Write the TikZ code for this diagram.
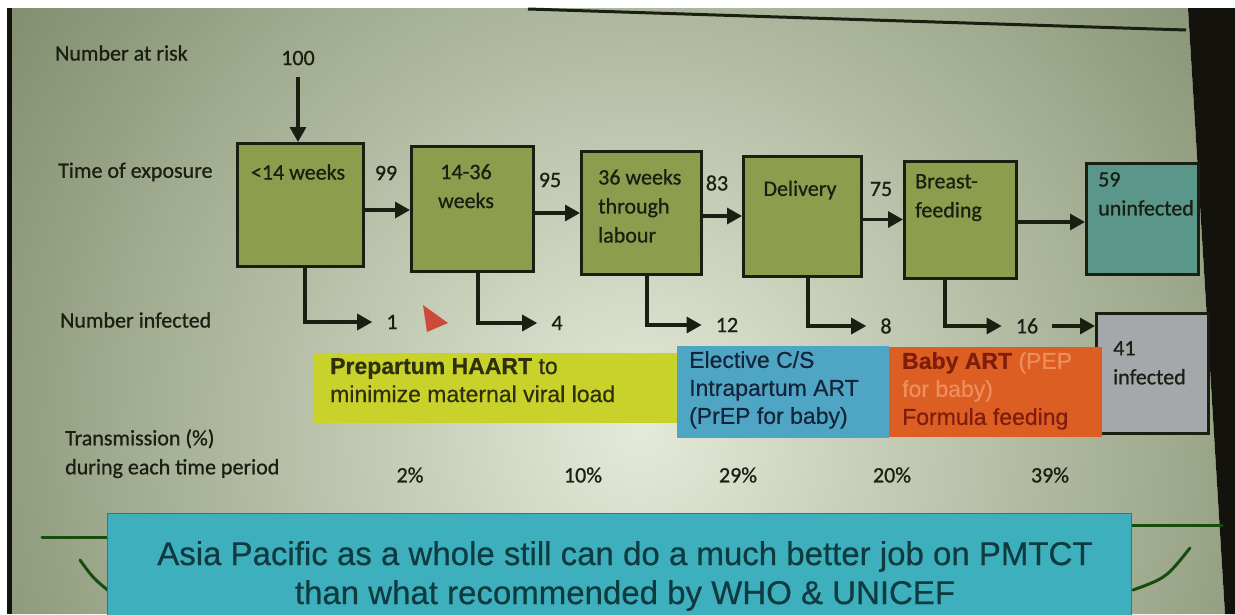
\documentclass[tikz,border=0pt]{standalone}
\usepackage{fontspec}
\setmainfont{Carlito}[FakeBold=0.8]
\newfontfamily\arialf{Liberation Sans}[FakeBold=0.5]
\usetikzlibrary{arrows.meta,calc}
\definecolor{slidein}{HTML}{E4EAD8}
\definecolor{slideout}{HTML}{7A8766}
\definecolor{ink}{HTML}{1B1F12}
\definecolor{gbox}{HTML}{8D9D4D}
\definecolor{tbox}{HTML}{5A968A}
\definecolor{ibox}{HTML}{A4A8AA}
\definecolor{ybox}{HTML}{C9D22A}
\definecolor{bbox}{HTML}{4FA6C4}
\definecolor{obox}{HTML}{DC5E22}
\definecolor{mbox}{HTML}{3EB0BD}
\definecolor{ytext}{HTML}{2E300C}
\definecolor{btext}{HTML}{16243A}
\definecolor{otext}{HTML}{7E1C0E}
\definecolor{olight}{HTML}{EE8E5C}
\definecolor{mtext}{HTML}{0F3A3F}
\definecolor{cursor}{HTML}{CC4A3C}
\definecolor{edge}{HTML}{14120C}
\begin{document}
\begin{tikzpicture}[x=1pt,y=-1pt,
  flowbox/.style={draw=ink, line width=3pt, inner sep=0pt, anchor=north west},
  lab/.style={inner sep=0pt, text=ink, font=\fontsize{22}{29}\selectfont},
  num/.style={inner ysep=0pt, inner xsep=14pt, text=ink, font=\fontsize{22}{29}\selectfont},
  arr/.style={draw=ink, line width=3.2pt, -{Triangle[length=15pt,width=16pt]}},
  panel/.style={inner sep=0pt, anchor=north west},
  ptext/.style={inner sep=0pt, anchor=north west, align=left, font=\arialf\fontsize{23}{28}\selectfont},
  deco/.style={draw=ink!80!green, line width=3pt, line cap=round}]
\useasboundingbox (0,0) rectangle (1235,614);
\fill[white] (0,0) rectangle (1235,614);
% slide background
\begin{scope}
  \clip (12,8) -- (1188,8) -- (1225,614) -- (12,614) -- cycle;
  \shade[inner color=slidein, outer color=slideout] (640,430) circle (820);
\end{scope}
\fill[edge] (7,8) rectangle (12,614);
\fill[edge] (1188,8) -- (1235,8) -- (1235,614) -- (1225,614) -- cycle;
\draw[ink, line width=3pt] (528,9) -- (1186,30);

% row labels
\node[lab, anchor=west] (lrisk) at (55,53) {Number at risk};
\node[lab, anchor=west] (lexp) at (58,172) {Time of exposure};
\node[lab, anchor=west] (linf) at (60,320) {Number infected};
\node[lab, anchor=north west, align=left] (ltr) at (65,429) {Transmission (\%)\\during each time period};

% boxes
\node[flowbox, fill=gbox, minimum width=126pt, minimum height=123pt] (b1) at (236,142) {};
\node[flowbox, fill=gbox, minimum width=122pt, minimum height=125pt] (b2) at (410,145) {};
\node[flowbox, fill=gbox, minimum width=120pt, minimum height=123pt] (b3) at (580,150) {};
\node[flowbox, fill=gbox, minimum width=118pt, minimum height=120pt] (b4) at (742,155) {};
\node[flowbox, fill=gbox, minimum width=112pt, minimum height=117pt] (b5) at (903,160) {};
\node[flowbox, fill=tbox, minimum width=112pt, minimum height=111pt] (b6) at (1085,162) {};
\node[flowbox, fill=ibox, minimum width=112pt, minimum height=120pt] (b7) at (1095,312) {};

% box texts
\node[lab] (t1) at (298,172) {<14 weeks};
\node[lab, anchor=north, align=center] (t2) at (466,164) {14-36\\weeks};
\node[lab, anchor=north west, align=left] (t3) at (598,169) {36 weeks\\through\\labour};
\node[lab] (t4) at (800,190) {Delivery};
\node[lab, anchor=north west, align=left] (t5) at (915,174) {Breast-\\feeding};
\node[lab, anchor=north west, align=left] (t6) at (1098,172) {59\\uninfected};
\node[lab, anchor=north west, align=left] (t7) at (1113,341) {41\\infected};

% numbers at risk
\node[lab, inner ysep=12pt] (n100) at (298,58) {100};
\node[lab] (n99) at (386,173) {99};
\node[lab] (n95) at (550,180) {95};
\node[lab] (n83) at (717,183) {83};
\node[lab] (n75) at (881,189) {75};

\coordinate (s1) at ($(b1.east)+(0,5)$);
\coordinate (s2) at ($(b2.east)+(0,4)$);
\coordinate (s3) at ($(b3.east)+(0,3)$);
\coordinate (s4) at ($(b4.east)+(0,3)$);
\coordinate (s5) at ($(b5.east)+(0,2)$);

\draw[arr] (n100.south) -- (n100.south |- b1.north);
\draw[arr] (s1) -- (s1 -| b2.west);
\draw[arr] (s2) -- (s2 -| b3.west);
\draw[arr] (s3) -- (s3 -| b4.west);
\draw[arr] (s4) -- (s4 -| b5.west);
\draw[arr] (s5) -- (s5 -| b6.west);

% infected numbers
\node[num] (c1) at (392,322) {1};
\node[num] (c4) at (557,323) {4};
\node[num] (c12) at (727,325) {12};
\node[num] (c8) at (886,326) {8};
\node[num] (c16) at (1027,326) {16};

\coordinate (d1) at ($(b1.south west)+(69,0)$);
\coordinate (d2) at ($(b2.south west)+(68,0)$);
\coordinate (d3) at ($(b3.south west)+(67,0)$);
\coordinate (d4) at ($(b4.south west)+(66,0)$);
\coordinate (d5) at ($(b5.south west)+(42,0)$);

\draw[arr] (d1) |- (c1.west);
\draw[arr] (d2) |- (c4.west);
\draw[arr] (d3) |- (c12.west);
\draw[arr] (d4) |- (c8.west);
\draw[arr] (d5) |- (c16.west);
\draw[arr] (c16.east) -- (c16.east -| b7.west);

% cursor
\fill[cursor] (423,305) -- (448,323) -- (427,332) -- cycle;

% intervention panels
\node[panel, fill=ybox, minimum width=364pt, minimum height=70pt] (py) at (313,353) {};
\node[panel, fill=bbox, minimum width=212pt, minimum height=92pt] (pb) at (677,346) {};
\node[panel, fill=obox, minimum width=213pt, minimum height=90pt] (po) at (889,347) {};
\node[ptext, text=ytext] (ty) at (330,358) {\textbf{Prepartum HAART} to\\minimize maternal viral load};
\node[ptext, text=btext] (tb) at (689,351) {Elective C/S\\Intrapartum ART\\(PrEP for baby)};
\node[ptext, text=otext] (to) at (902,352) {\textbf{Baby ART} \textcolor{olight}{(PEP}\\\textcolor{olight}{for baby)}\\Formula feeding};

% percentages
\node[lab] (p1) at (410,475) {2\%};
\node[lab] (p2) at (583,475) {10\%};
\node[lab] (p3) at (738,475) {29\%};
\node[lab] (p4) at (892,475) {20\%};
\node[lab] (p5) at (1050,475) {39\%};

% bottom decoration and message
\draw[deco] (42,537) -- (107,537);
\draw[deco] (1131,525) -- (1222,525);
\draw[deco] (80,560) .. controls (93,578) .. (110,592);
\draw[deco] (1190,548) .. controls (1166,578) .. (1133,590);
\node[panel, fill=mbox, draw=mbox!70!black, line width=1pt, minimum width=1024pt, minimum height=120pt] (msg) at (107,513) {};
\node[inner sep=0pt, align=center, text=mtext, font=\arialf\fontsize{33}{39}\selectfont] (mt) at (625,576) {Asia Pacific as a whole still can do a much better job on PMTCT\\than what recommended by WHO \& UNICEF};
\end{tikzpicture}
\end{document}
